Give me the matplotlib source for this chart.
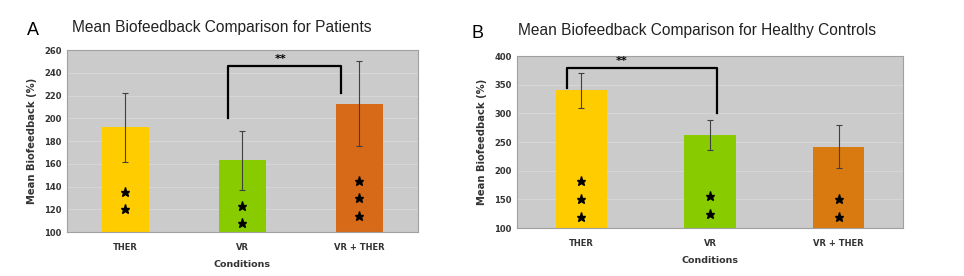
import numpy as np
import matplotlib
matplotlib.use("Agg")
from matplotlib import pyplot as plt

# data
conditions = ["THER", "VR", "VR + THER"]

patients_mean = [192, 163, 213]
patients_err = [30.5, 26, 37.5]
patients_stars = [[135, 120], [123, 108], [145, 130, 114]]

controls_mean = [340, 262, 242]
controls_err = [31, 26.5, 37.5]
controls_stars = [[182, 150, 120], [155, 125], [150, 120]]

colors_a = ["#FFCC00", "#88CC00", "#D76A18"]
colors_b = ["#FFCC00", "#88CC00", "#D97A10"]

fig = plt.figure(figsize=(9.64, 2.76), dpi=100)
fig.patch.set_facecolor("white")

ax_a = fig.add_axes([0.0695, 0.1594, 0.364, 0.659])
ax_b = fig.add_axes([0.5363, 0.1739, 0.4004, 0.623])


def draw_panel(ax, means, errs, stars, colors, ylim, yticks):
    x = np.arange(len(conditions))
    ax.set_facecolor("#cbcbcb")
    ax.set_axisbelow(True)
    ax.grid(axis="y", color="#d6d6d6", linewidth=0.8)
    ax.bar(x, np.array(means) - ylim[0], bottom=ylim[0], width=0.4, color=colors, zorder=2)
    ax.errorbar(x, means, yerr=errs, fmt="none", ecolor="#404040", elinewidth=0.8,
                capsize=2.5, capthick=0.8, zorder=3)
    for xi, ys in zip(x, stars):
        ax.plot([xi] * len(ys), ys, "*", color="black", markersize=6.5, zorder=4)
    ax.set_xlim(-0.5, 2.5)
    ax.set_ylim(*ylim)
    ax.set_yticks(yticks)
    ax.set_xticks(x)
    ax.set_xticklabels(conditions, fontsize=6, fontweight="bold", color="#333333")
    for lab in ax.get_yticklabels():
        lab.set_fontsize(6)
        lab.set_fontweight("bold")
        lab.set_color("#333333")
    ax.tick_params(axis="x", length=0, pad=8)
    ax.tick_params(axis="y", length=0, pad=4)
    for s in ax.spines.values():
        s.set_color("#a0a0a0")
        s.set_linewidth(0.8)
    ax.set_ylabel("Mean Biofeedback (%)", fontsize=7.2, fontweight="bold", color="#333333", labelpad=5)
    ax.set_xlabel("Conditions", fontsize=6.8, fontweight="bold", color="#333333", labelpad=6)


draw_panel(ax_a, patients_mean, patients_err, patients_stars, colors_a, (100, 260),
           np.arange(100, 261, 20))
draw_panel(ax_b, controls_mean, controls_err, controls_stars, colors_b, (100, 400),
           np.arange(100, 401, 50))

# significance brackets
ax_a.plot([0.876, 0.876, 1.842, 1.842], [200, 246, 246, 222], color="black", lw=1.6, zorder=5)
ax_a.text(1.33, 252, "**", ha="center", va="center", fontsize=8, fontweight="bold")
ax_b.plot([-0.111, -0.111, 1.054, 1.054], [344, 379, 379, 300], color="black", lw=1.6, zorder=5)
ax_b.text(0.316, 391, "**", ha="center", va="center", fontsize=8, fontweight="bold")

# titles and panel letters
fig.text(0.028, 0.89, "A", fontsize=13, va="center", ha="left", family="Liberation Sans")
fig.text(0.075, 0.9, "Mean Biofeedback Comparison for Patients", fontsize=11.2,
         va="center", ha="left", family="Liberation Sans", color="#222222")
fig.text(0.489, 0.88, "B", fontsize=13, va="center", ha="left", family="Liberation Sans")
fig.text(0.537, 0.89, "Mean Biofeedback Comparison for Healthy Controls", fontsize=11.2,
         va="center", ha="left", family="Liberation Sans", color="#222222")

fig.savefig("out.png", dpi=100)
